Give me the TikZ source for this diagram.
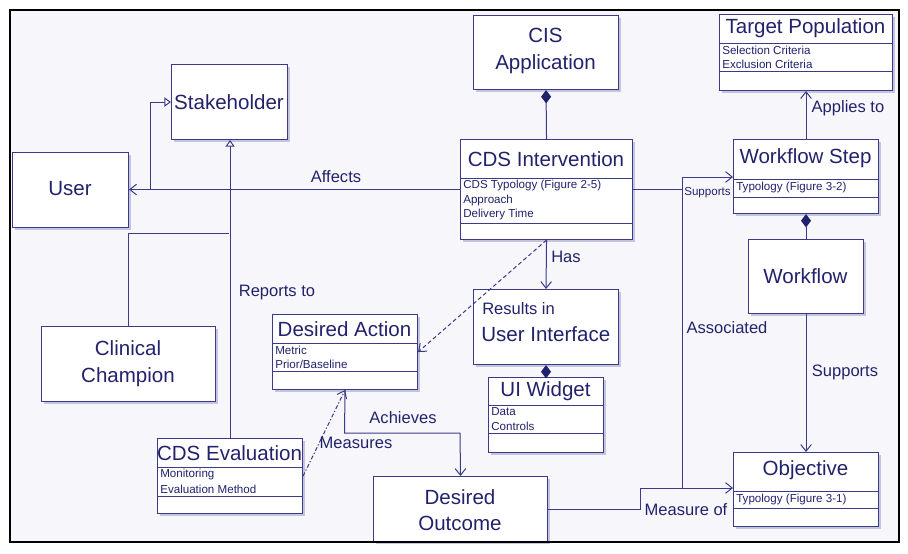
\documentclass[tikz,border=0pt]{standalone}
\usepackage{fontspec}
\setmainfont{Liberation Sans}
\usetikzlibrary{arrows.meta}
\definecolor{ink}{RGB}{34,34,108}
\definecolor{lnc}{RGB}{58,58,138}
\definecolor{shd}{RGB}{196,196,222}
\definecolor{bgc}{RGB}{247,247,251}
\tikzset{
  boxst/.style={draw=lnc, line width=0.8pt, fill=white, inner sep=0pt},
  divline/.style={draw=lnc, line width=0.75pt},
  ttl/.style={text=ink, inner sep=0pt, font=\fontsize{15.4}{20}\selectfont, align=center},
  attr/.style={text=ink, inner sep=0pt, anchor=west, font=\fontsize{8.7}{10}\selectfont},
  lbl/.style={text=ink, inner sep=0pt, font=\fontsize{12.4}{14}\selectfont},
  conn/.style={draw=lnc, line width=0.75pt},
  assoc/.style={conn, -{Straight Barb[length=5pt,width=8pt]}},
  gen/.style={conn, -{Triangle[open,length=5pt,width=7pt,fill=white]}},
  comp/.style={conn, {Diamond[length=10pt,width=7.5pt,color=ink,fill=ink]}-},
  dashedassoc/.style={assoc, dash pattern=on 3pt off 2pt},
  dashdotassoc/.style={assoc, dash pattern=on 3pt off 1.5pt on 1pt off 1.5pt},
}
\newcommand{\ubox}[5]{%
  \fill[shd] (#2+3,#3+3) rectangle (#4+3,#5+3);
  \node[boxst, anchor=north west, minimum width={(#4-#2)*0.75pt}, minimum height={(#5-#3)*0.75pt}] (#1) at (#2,#3) {};
}
\begin{document}
\begin{tikzpicture}[x=0.75pt,y=-0.75pt]
\useasboundingbox (0,0) rectangle (908,554);
\fill[white] (0,0) rectangle (908,554);
\fill[bgc] (10,10) rectangle (899,542);

% boxes
\ubox{stake}{171}{64}{287}{139}
\ubox{user}{12}{152}{128}{227}
\ubox{cc}{41}{326}{215}{401}
\ubox{cdse}{157}{438}{302}{513}
\ubox{da}{272}{314}{417}{389}
\ubox{dout}{373}{476}{547}{541}
\ubox{cis}{473}{15}{618}{89}
\ubox{cdsi}{460}{139}{632}{239}
\ubox{tp}{719}{14}{892}{90}
\ubox{ws}{733}{139}{878}{213}
\ubox{wf}{748}{239}{863}{313}
\ubox{ui}{473}{289}{618}{364}
\ubox{uiw}{488}{377}{603}{452}
\ubox{obj}{733}{452}{878}{526}

% compartment dividers
\draw[divline] (157,467) -- (302,467);
\draw[divline] (157,496) -- (302,496);
\draw[divline] (272,343) -- (417,343);
\draw[divline] (272,371) -- (417,371);
\draw[divline] (460,178) -- (632,178);
\draw[divline] (460,223) -- (632,223);
\draw[divline] (719,43) -- (892,43);
\draw[divline] (719,71) -- (892,71);
\draw[divline] (733,179) -- (878,179);
\draw[divline] (733,197) -- (878,197);
\draw[divline] (488,405) -- (603,405);
\draw[divline] (488,433) -- (603,433);
\draw[divline] (733,491) -- (878,491);
\draw[divline] (733,508) -- (878,508);

% titles
\node[ttl] (t-stake) at (229,102) {Stakeholder};
\node[ttl] (t-user) at (70,189) {User};
\node[ttl] (t-cc) at (128,364) {Clinical\\Champion};
\node[ttl] (t-cdse) at (229.5,453) {CDS Evaluation};
\node[ttl] (t-da) at (344.5,329) {Desired Action};
\node[ttl] (t-dout) at (460,510) {Desired\\Outcome};
\node[ttl] (t-cis) at (545.5,51) {CIS\\Application};
\node[ttl] (t-cdsi) at (546,159) {CDS Intervention};
\node[ttl] (t-tp) at (805.5,28) {Target Population};
\node[ttl] (t-ws) at (805.5,158) {Workflow Step};
\node[ttl] (t-wf) at (805.5,276) {Workflow};
\node[lbl, anchor=west] (t-ui1) at (482,309) {Results in};
\node[ttl, anchor=west] (t-ui2) at (481,334) {User Interface};
\node[ttl] (t-uiw) at (545.5,391) {UI Widget};
\node[ttl] (t-obj) at (805.5,470) {Objective};

% attributes
\node[attr] (a-cdse1) at (160,474) {Monitoring};
\node[attr] (a-cdse2) at (160,489) {Evaluation Method};
\node[attr] (a-da1) at (275,350) {Metric};
\node[attr] (a-da2) at (275,364) {Prior/Baseline};
\node[attr] (a-cdsi1) at (463,185) {CDS Typology (Figure 2-5)};
\node[attr] (a-cdsi2) at (463,200) {Approach};
\node[attr] (a-cdsi3) at (463,214) {Delivery Time};
\node[attr] (a-tp1) at (722,50) {Selection Criteria};
\node[attr] (a-tp2) at (722,64) {Exclusion Criteria};
\node[attr] (a-ws1) at (736,187) {Typology (Figure 3-2)};
\node[attr] (a-uiw1) at (491,412) {Data};
\node[attr] (a-uiw2) at (491,426) {Controls};
\node[attr] (a-obj1) at (736,499) {Typology (Figure 3-1)};

% helper coordinates
\coordinate (ugen) at (150,189);
\coordinate (ccj) at (229,233);
\coordinate (jtop) at (682,177);
\coordinate (jbot) at (682,488);
\coordinate (mof) at (640,488);
\coordinate (ach1) at (344.5,433);
\coordinate (ach2) at (460,433);

% connectors
\draw[assoc] (cdsi.west) -- (cdsi.west -| user.east);
\draw[gen] (ugen) |- (stake.west);
\draw[gen] (cdse.north) -- (cdse.north |- stake.south);
\draw[conn] (cc.north) |- (ccj);
\draw[comp] (cis.south) -- (cdsi.north);
\draw[assoc] (cdsi.south) -- (ui.north);
\draw[comp] (ui.south) -- (uiw.north);
\draw[dashedassoc] (cdsi.south) -- (da.east);
\draw[conn] (cdsi.east) -- (cdsi.east -| jtop);
\draw[assoc] (jtop) -- (jtop -| ws.west);
\draw[conn] (jtop) -- (jbot);
\draw[assoc] (dout.east) -| (mof) -- (mof -| obj.west);
\draw[assoc] (ws.north) -- (tp.south);
\draw[comp] (ws.south) -- (wf.north);
\draw[assoc] (wf.south) -- (obj.north);
\draw[assoc] (da.south) -- (ach1) -- (ach2) -- (dout.north);
\draw[dashdotassoc] (cdse.east) -- (da.south);

% connector labels
\node[lbl] (l-aff) at (336,177) {Affects};
\node[lbl] (l-rep) at (277,293) {Reports to};
\node[lbl] (l-has) at (566,257) {Has};
\node[attr] (l-sup1) at (684,193) {Supports};
\node[lbl] (l-assoc) at (727,328) {Associated};
\node[lbl] (l-app) at (848,108) {Applies to};
\node[lbl] (l-sup2) at (845,372) {Supports};
\node[lbl] (l-ach) at (403,418) {Achieves};
\node[lbl] (l-mea) at (356,443) {Measures};
\node[lbl] (l-mof) at (686,510) {Measure of};

% frame
\draw[black, line width=1.5pt] (10,10) rectangle (899,542);
\end{tikzpicture}
\end{document}
